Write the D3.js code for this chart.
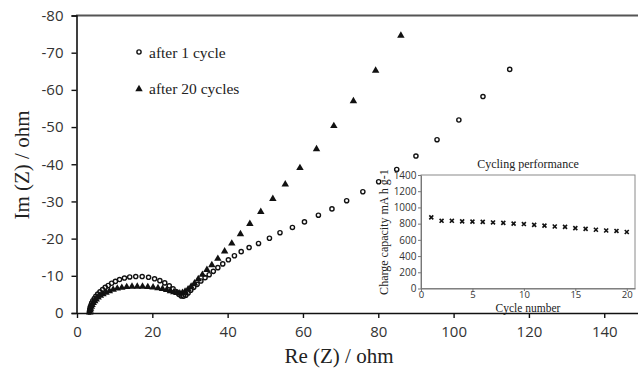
<!DOCTYPE html>
<html>
<head>
<meta charset="utf-8">
<script src="https://cdn.jsdelivr.net/npm/d3@7"></script>
<style>
  body { margin: 0; background: #fff; }
  .tick text { font-family: "Open Sans", sans-serif; fill: #333; }
  .axisTitle { font-family: "Liberation Serif", "Times New Roman", serif; fill: #222; }
</style>
</head>
<body>
<div id="chart"></div>
<script>
/* global d3 */

// impedance after 1 cycle (Re, Im in ohm)
const re1 = [3.3, 3.4, 3.5, 3.7, 3.9, 4.2, 4.6, 5.0, 5.5, 6.1, 6.8, 7.5, 8.3, 9.2, 10.2, 11.3, 12.6, 14.0, 15.6, 17.3,
  19.0, 20.6, 22.0, 23.3, 24.5, 25.5, 26.4, 27.1, 27.7, 28.3, 28.9, 29.5, 30.2, 31.0, 31.9, 32.9, 34.0, 35.1, 36.2,
  37.4, 38.7, 40.2, 41.8, 43.6, 45.7, 48.2, 51.1, 53.9, 57.2, 60.4, 64.1, 67.7, 71.6, 75.9, 80.1, 84.9, 90.0, 95.6,
  101.4, 107.8, 114.9]
const im1 = [-0.3, -0.9, -1.5, -2.1, -2.7, -3.3, -3.9, -4.5, -5.1, -5.7, -6.3, -6.9, -7.4, -8.0, -8.5, -9.0, -9.4, -9.7, -9.8, -9.8,
  -9.6, -9.2, -8.7, -8.1, -7.3, -6.5, -5.7, -5.0, -4.6, -4.5, -4.8, -5.4, -6.1, -6.9, -7.7, -8.6, -9.5, -10.3, -11.2,
  -12.2, -13.2, -14.3, -15.4, -16.5, -17.6, -18.7, -20.1, -21.6, -23.0, -24.5, -26.3, -28.0, -30.2, -32.6, -35.3, -38.6, -42.2, -46.6,
  -51.9, -58.2, -65.5]

// impedance after 20 cycles (Re, Im in ohm)
const re20 = [3.4, 3.5, 3.6, 3.8, 4.0, 4.3, 4.7, 5.1, 5.6, 6.2, 6.9, 7.7, 8.6, 9.6, 10.7, 11.9, 13.2, 14.6, 16.0, 17.4,
  18.8, 20.2, 21.5, 22.7, 23.8, 24.8, 25.7, 26.5, 27.3, 28.0, 28.7, 29.5, 30.3, 31.2, 32.2, 33.3, 34.5, 35.8, 37.4,
  39.2, 41.1, 43.4, 45.9, 48.8, 52.0, 55.3, 59.2, 63.6, 68.2, 73.4, 79.3, 86.0]
const im20 = [-0.2, -0.7, -1.2, -1.7, -2.2, -2.7, -3.2, -3.7, -4.2, -4.7, -5.1, -5.5, -5.9, -6.3, -6.6, -6.8, -7.0, -7.1, -7.1, -7.1,
  -7.0, -6.9, -6.7, -6.5, -6.2, -5.9, -5.6, -5.4, -5.3, -5.4, -5.8, -6.4, -7.1, -8.0, -9.1, -10.3, -11.6, -12.9, -14.6,
  -16.6, -18.7, -21.2, -24.0, -27.2, -30.7, -34.6, -39.0, -44.1, -50.3, -57.0, -65.2, -74.6]

// cycling performance inset
const cycles = d3.range(1, 21)
const capacity = [877, 835, 835, 828, 825, 822, 815, 810, 800, 795, 785, 775, 765, 760, 745, 735, 725, 715, 710, 697]

const reTicks = [0, 20, 40, 60, 80, 100, 120, 140]
const imTicks = [0, -10, -20, -30, -40, -50, -60, -70, -80]
const cycleTicks = [0, 5, 10, 15, 20]
const capTicks = [0, 200, 400, 600, 800, 1000, 1200, 1400]

const width = 638, height = 369

const svg = d3.select('#chart')
    .append('svg')
    .attr('width', width)
    .attr('height', height)

// main Nyquist plot
const x = d3.scaleLinear().domain([0, 150]).range([77, 77 + 150 * 3.766])
const y = d3.scaleLinear().domain([0, -80]).range([313, 15.5])

svg.append('line')
    .attr('x1', 76).attr('x2', width)
    .attr('y1', 15.5).attr('y2', 15.5)
    .attr('stroke', '#555').attr('stroke-width', 2)

const yAxis = svg.append('g')
    .attr('transform', 'translate(76.5,0)')
    .call(d3.axisLeft(y).tickValues(imTicks).tickSize(5).tickPadding(8).tickFormat(d => String(d)))
yAxis.selectAll('text').style('font-size', '15px')
yAxis.select('.domain').attr('stroke', '#111').attr('stroke-width', 1.6)
yAxis.selectAll('.tick line').attr('stroke', '#111').attr('stroke-width', 1.4)

const xAxis = svg.append('g')
    .attr('transform', 'translate(0,313)')
    .call(d3.axisBottom(x).tickValues(reTicks).tickSize(5).tickPadding(8.5).tickSizeOuter(0))
xAxis.selectAll('text').style('font-size', '15px')
xAxis.select('.domain').attr('stroke', '#111').attr('stroke-width', 1.6)
xAxis.selectAll('.tick line').attr('stroke', '#111').attr('stroke-width', 1.4)

svg.append('text')
    .attr('class', 'axisTitle')
    .attr('transform', 'translate(29,165) rotate(-90)')
    .attr('text-anchor', 'middle')
    .style('font-size', '21px')
    .text('Im (Z) / ohm')

svg.append('text')
    .attr('class', 'axisTitle')
    .attr('x', 339).attr('y', 363)
    .attr('text-anchor', 'middle')
    .style('font-size', '21px')
    .text('Re (Z) / ohm')

const tri = d3.symbol(d3.symbolTriangle).size(24)

const s1 = re1.map((r, i) => ({ re: r, im: im1[i] }))
const s20 = re20.map((r, i) => ({ re: r, im: im20[i] }))

svg.append('g').selectAll('circle')
    .data(s1)
    .join('circle')
    .attr('cx', d => x(d.re))
    .attr('cy', d => y(d.im))
    .attr('r', 2.1)
    .attr('fill', 'none')
    .attr('stroke', '#111')
    .attr('stroke-width', 1.4)

svg.append('g').selectAll('path')
    .data(s20)
    .join('path')
    .attr('d', tri)
    .attr('transform', d => `translate(${x(d.re)},${y(d.im)})`)
    .attr('fill', '#111')

// legend
const legend = svg.append('g')
legend.append('circle')
    .attr('cx', 139).attr('cy', 52).attr('r', 2.1)
    .attr('fill', 'none').attr('stroke', '#111').attr('stroke-width', 1.4)
legend.append('path')
    .attr('d', tri)
    .attr('transform', 'translate(139,89)')
    .attr('fill', '#111')
legend.append('text')
    .attr('class', 'axisTitle')
    .attr('x', 149).attr('y', 57.5)
    .style('font-size', '15.5px')
    .text('after 1 cycle')
legend.append('text')
    .attr('class', 'axisTitle')
    .attr('x', 149).attr('y', 94)
    .style('font-size', '15.5px')
    .text('after 20 cycles')

// inset: charge capacity vs cycle
const ix = d3.scaleLinear().domain([0, 20.8]).range([421, 635])
const iy = d3.scaleLinear().domain([0, 1400]).range([288.5, 175])

const inset = svg.append('g')

inset.append('rect')
    .attr('x', ix(0)).attr('y', iy(1400))
    .attr('width', ix(20.8) - ix(0))
    .attr('height', iy(0) - iy(1400))
    .attr('fill', 'none')
    .attr('stroke', '#8a8a8a')

const iyAxis = inset.append('g')
    .attr('transform', `translate(${ix(0)},0)`)
    .call(d3.axisLeft(iy).tickValues(capTicks).tickSize(3).tickPadding(1.5).tickSizeOuter(0).tickFormat(d3.format('d')))
iyAxis.selectAll('text').style('font-size', '10px')
iyAxis.selectAll('line, .domain').attr('stroke', '#777')

const ixAxis = inset.append('g')
    .attr('transform', `translate(0,${iy(0)})`)
    .call(d3.axisBottom(ix).tickValues(cycleTicks).tickSize(2.5).tickPadding(0).tickSizeOuter(0))
ixAxis.selectAll('text').style('font-size', '9.5px')
ixAxis.selectAll('line, .domain').attr('stroke', '#777')

inset.append('text')
    .attr('class', 'axisTitle')
    .attr('x', 528).attr('y', 168)
    .attr('text-anchor', 'middle')
    .style('font-size', '12px')
    .text('Cycling performance')

inset.append('text')
    .attr('class', 'axisTitle')
    .attr('transform', 'translate(388,232) rotate(-90)')
    .attr('text-anchor', 'middle')
    .style('font-size', '12px')
    .text('Charge capacity mA h g-1')

inset.append('text')
    .attr('class', 'axisTitle')
    .attr('x', 528).attr('y', 311.5)
    .attr('text-anchor', 'middle')
    .style('font-size', '11.5px')
    .text('Cycle number')

inset.append('g').selectAll('path')
    .data(cycles.map((c, i) => ({ c, cap: capacity[i] })))
    .join('path')
    .attr('d', d3.symbol(d3.symbolX).size(12))
    .attr('transform', d => `translate(${ix(d.c)},${iy(d.cap)})`)
    .attr('stroke', '#111')
    .attr('stroke-width', 1.6)
    .attr('fill', 'none')
</script>
</body>
</html>
